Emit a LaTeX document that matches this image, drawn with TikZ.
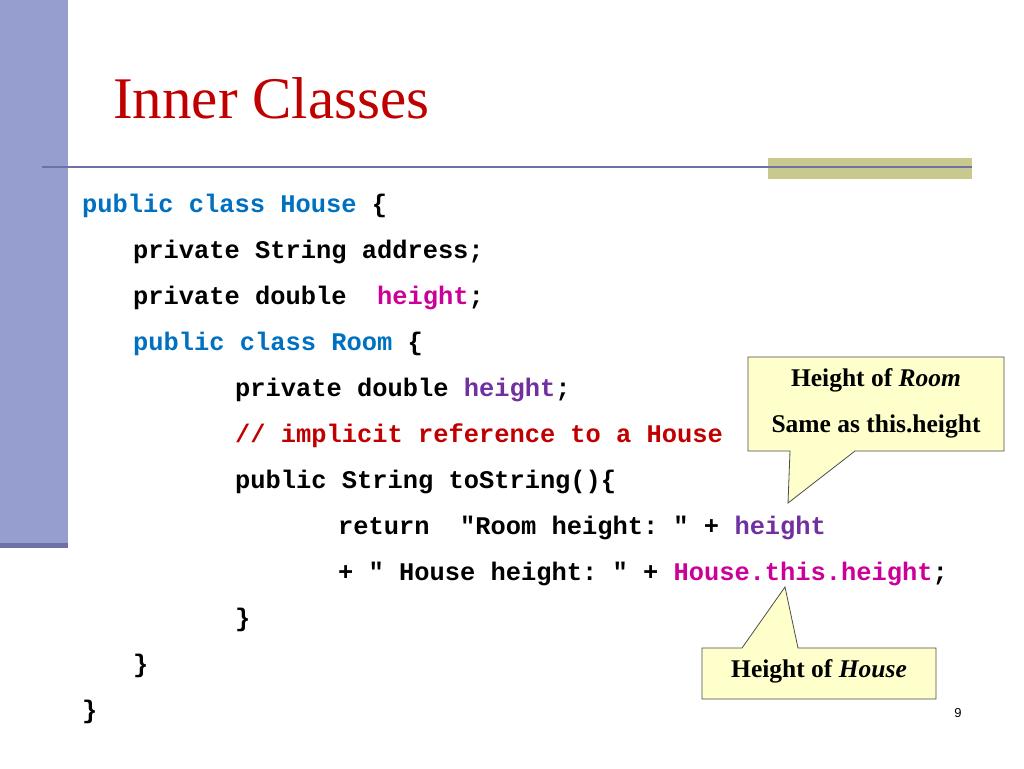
\documentclass[tikz,border=0pt]{standalone}
\usepackage{fontspec}
\setmainfont{Liberation Serif}
\setmonofont{Liberation Mono}
\setsansfont{Liberation Sans}
\definecolor{kw}{HTML}{0070C0}
\definecolor{mg}{HTML}{CC0099}
\definecolor{pu}{HTML}{7030A0}
\definecolor{cm}{HTML}{C00000}
\definecolor{barc}{HTML}{959ECF}
\definecolor{linec}{HTML}{6E70A8}
\definecolor{olive}{HTML}{C9C98E}
\definecolor{callf}{HTML}{FFFFCC}
\tikzset{
 code/.style={anchor=base west, inner sep=0pt, font=\fontsize{25.4}{28}\selectfont\ttfamily\bfseries},
 call/.style={fill=callf, draw=black!70, line width=0.8pt, line join=miter},
 ctext/.style={inner sep=0pt, font=\fontsize{25.5}{28}\selectfont\bfseries}
}
\begin{document}
\begin{tikzpicture}[x=1pt,y=-1pt]
\useasboundingbox (0,0) rectangle (1024,768);
\fill[white] (0,0) rectangle (1024,768);
\fill[barc] (0,0) rectangle (68,545);
\fill[linec] (0,543) rectangle (68,548);
\fill[olive] (768,158) rectangle (972,179);
\draw[linec, line width=2pt] (42,167) -- (972,167);
\node[anchor=base west, inner sep=0pt, text=cm, font=\fontsize{59}{64}\selectfont] (title) at (113,118) {Inner Classes};
\node[code] (l1) at (82,212) {\textcolor{kw}{public class House} \{};
\node[code] (l2) at (133,258) {private String address;};
\node[code] (l3) at (133,304) {private double~ \textcolor{mg}{height};};
\node[code] (l4) at (133,350) {\textcolor{kw}{public class Room} \{};
\node[code] (l5) at (235,396) {private double \textcolor{pu}{height};};
\node[code] (l6) at (235,442) {\textcolor{cm}{// implicit reference to a House}};
\node[code] (l7) at (235,488) {public String toString()\{};
\node[code] (l8) at (338,534) {return~ "Room height: " + \textcolor{pu}{height}};
\node[code] (l9) at (338,580) {+ " House height: " + \textcolor{mg}{House.this.height};};
\node[code] (l10) at (235,626) {\}};
\node[code] (l11) at (133,672) {\}};
\node[code] (l12) at (82,718) {\}};
\draw[call] (748,357) -- (1004,357) -- (1004,451) -- (855,451) -- (788,503) -- (790,451) -- (748,451) -- cycle;
\node[ctext] (c1a) at (876,380) {Height of \textit{Room}};
\node[ctext] (c1b) at (876,426) {Same as this.height};
\draw[call] (702,648) -- (742,648) -- (785,587) -- (798,648) -- (936,648) -- (936,699) -- (702,699) -- cycle;
\node[ctext] (c2) at (819,671) {Height of \textit{House}};
\node[inner sep=0pt, font=\fontsize{13}{15}\selectfont\sffamily] (pg) at (958,713) {9};
\end{tikzpicture}
\end{document}
